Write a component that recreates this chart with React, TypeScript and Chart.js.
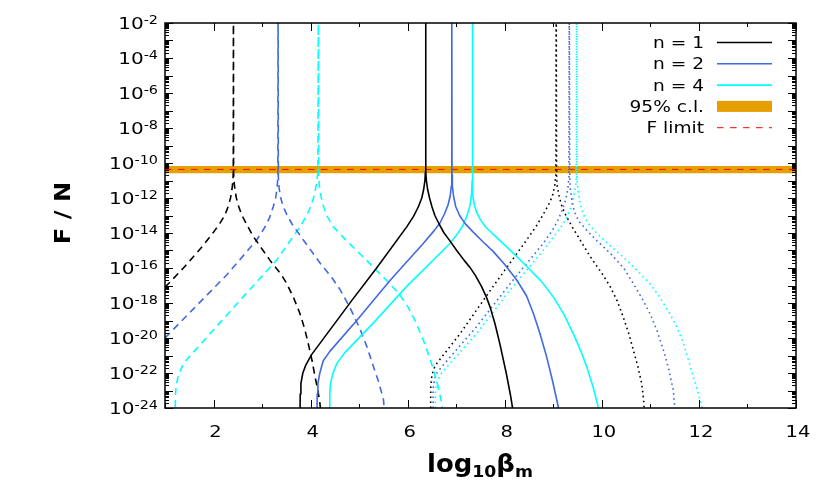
import React, { useEffect, useRef } from "react";
import { Chart, registerables } from "chart.js";

Chart.register(...registerables);

// ---------- axes ----------
const xRange = [1, 14];
const yRange = [1e-24, 1e-2];
const xMajorTicks = [2, 4, 6, 8, 10, 12, 14];
const xMinorTicks = [1, 3, 5, 7, 9, 11, 13];
const yLabelExponents = [-2, -4, -6, -8, -10, -12, -14, -16, -18, -20, -22, -24];
const yDecadeExponents = [-2, -3, -4, -5, -6, -7, -8, -9, -10, -11, -12, -13, -14, -15, -16, -17, -18, -19, -20, -21, -22, -23, -24];
const yMinorMultipliers = [2, 3, 4, 5, 6, 7, 8, 9];

// ---------- 95% c.l. band and F limit ----------
const bandLower = 2.6e-11;
const bandUpper = 6.8e-11;
const fLimit = 4.3e-11;

// ---------- curves (x = log10 beta_m, y = F/N) ----------
// dashed group
const dashedN1X = [1.0, 1.38, 1.79, 2.0, 2.13, 2.23, 2.30, 2.35, 2.38, 2.40, 2.407, 2.41, 2.413, 2.42, 2.44, 2.47, 2.52, 2.58, 2.68, 2.82, 3.16, 3.40, 3.51, 3.65, 3.78, 3.88, 3.95, 4.03, 4.09, 4.15, 4.19, 4.22];
const dashedN1Y = [7.94e-18, 1e-16, 2.0e-15, 1.12e-14, 3.55e-14, 1e-13, 3.16e-13, 1e-12, 3.16e-12, 1e-11, 3.16e-11, 1, 3.16e-11, 1e-11, 3.16e-12, 1e-12, 3.16e-13, 1.12e-13, 3.16e-14, 6.31e-15, 2.82e-16, 3.98e-17, 1.26e-17, 2.0e-18, 2.51e-19, 3.16e-20, 5.01e-21, 5.01e-22, 6.31e-23, 1e-23, 2.0e-24, 3.16e-25];

const dashedN2X = [1.0, 1.58, 2.27, 2.89, 3.05, 3.15, 3.23, 3.28, 3.31, 3.325, 3.33, 3.335, 3.35, 3.38, 3.43, 3.51, 3.62, 3.85, 4.19, 4.45, 4.61, 4.80, 5.02, 5.16, 5.29, 5.40, 5.50, 5.53];
const dashedN2Y = [1e-20, 4.47e-19, 3.98e-17, 3.98e-15, 2.0e-14, 7.08e-14, 3.16e-13, 1e-12, 3.98e-12, 1.58e-11, 1, 1.58e-11, 3.98e-12, 1.12e-12, 3.55e-13, 1.12e-13, 3.16e-14, 3.98e-15, 2.0e-16, 2.51e-17, 5.62e-18, 6.31e-19, 3.16e-20, 3.16e-21, 2.51e-22, 3.16e-23, 3.16e-24, 3.16e-25];

const dashedN4X = [1.21, 1.215, 1.23, 1.27, 1.38, 1.93, 2.61, 3.30, 3.78, 3.92, 4.02, 4.08, 4.12, 4.15, 4.16, 4.165, 4.18, 4.21, 4.25, 4.33, 4.47, 4.74, 5.15, 5.36, 5.60, 5.83, 6.0, 6.15, 6.32, 6.45, 6.53, 6.62, 6.70, 6.73];
const dashedN4Y = [1e-26, 5.01e-24, 2.0e-23, 6.31e-23, 3.55e-22, 1.78e-20, 2.24e-18, 2.82e-16, 2.24e-14, 1e-13, 4.47e-13, 1.58e-12, 6.31e-12, 2.51e-11, 1, 2.51e-11, 5.01e-12, 1.41e-12, 4.47e-13, 1e-13, 2.24e-14, 3.55e-15, 2.82e-16, 7.08e-17, 1.58e-17, 3.16e-18, 6.31e-19, 1e-19, 7.94e-21, 7.94e-22, 1.58e-22, 2.0e-23, 2.0e-24, 3.16e-25];

// solid group
const solidN1X = [3.78, 3.785, 3.80, 3.84, 3.90, 4.02, 4.85, 5.36, 5.98, 6.12, 6.22, 6.29, 6.33, 6.355, 6.365, 6.37, 6.375, 6.385, 6.41, 6.45, 6.50, 6.56, 6.65, 6.75, 6.87, 7.01, 7.16, 7.28, 7.40, 7.52, 7.62, 7.70, 7.80, 7.90, 8.03, 8.12, 8.19];
const solidN1Y = [1e-26, 6.31e-24, 2.51e-23, 1e-22, 2.82e-22, 1.12e-21, 1.41e-18, 1e-16, 2.24e-14, 8.91e-14, 3.16e-13, 1e-12, 3.16e-12, 1e-11, 3.16e-11, 1, 3.16e-11, 1e-11, 3.16e-12, 1e-12, 3.16e-13, 1e-13, 3.16e-14, 1e-14, 3.55e-15, 1e-15, 2.82e-16, 1.12e-16, 3.55e-17, 8.91e-18, 2.24e-18, 5.62e-19, 6.31e-20, 4.47e-21, 1e-22, 5.01e-24, 3.16e-25];

const solidN2X = [4.13, 4.135, 4.15, 4.19, 4.26, 4.40, 4.95, 5.64, 6.32, 6.55, 6.67, 6.76, 6.83, 6.875, 6.90, 6.907, 6.91, 6.913, 6.92, 6.945, 6.99, 7.07, 7.18, 7.35, 7.55, 7.76, 8.0, 8.25, 8.45, 8.59, 8.72, 8.86, 8.98, 9.10, 9.12];
const solidN2Y = [1e-26, 6.31e-24, 2.51e-23, 1e-22, 5.01e-22, 1.78e-21, 1e-19, 2.0e-17, 2.51e-15, 1.41e-14, 3.98e-14, 1.26e-13, 3.98e-13, 1.26e-12, 5.01e-12, 2.0e-11, 1, 2.0e-11, 5.01e-12, 1.26e-12, 3.16e-13, 1e-13, 3.55e-14, 1.12e-14, 3.16e-15, 8.91e-16, 1.58e-16, 2.0e-17, 2.51e-18, 2.51e-19, 2.0e-20, 8.91e-22, 3.98e-23, 1.26e-24, 3.16e-25];

const solidN4X = [4.39, 4.395, 4.41, 4.45, 4.54, 4.70, 5.29, 5.98, 6.87, 7.05, 7.15, 7.23, 7.285, 7.315, 7.327, 7.33, 7.333, 7.345, 7.375, 7.42, 7.50, 7.62, 7.83, 8.1, 8.45, 8.75, 9.0, 9.22, 9.41, 9.56, 9.69, 9.82, 9.93, 9.94];
const solidN4Y = [1e-26, 6.31e-24, 2.51e-23, 7.94e-23, 3.55e-22, 1.41e-21, 7.08e-20, 8.91e-18, 2.51e-15, 1.12e-14, 3.16e-14, 1.12e-13, 3.98e-13, 1.58e-12, 1e-11, 1, 1e-11, 1.58e-12, 3.98e-13, 1.58e-13, 5.62e-14, 2.0e-14, 5.62e-15, 1.12e-15, 1.26e-16, 1.78e-17, 2.24e-18, 2.24e-19, 1.78e-20, 2.0e-21, 2.24e-22, 1.58e-23, 1e-24, 3.16e-25];

// dotted group
const dottedN1X = [6.47, 6.475, 6.50, 6.55, 6.60, 7.08, 7.76, 8.45, 8.65, 8.79, 8.90, 8.98, 9.03, 9.052, 9.06, 9.068, 9.08, 9.12, 9.18, 9.26, 9.41, 9.76, 10.0, 10.17, 10.32, 10.44, 10.55, 10.65, 10.74, 10.82, 10.86, 10.88];
const dottedN1Y = [1e-26, 1.58e-23, 7.94e-23, 2.0e-22, 3.55e-22, 1.78e-20, 8.91e-18, 3.98e-15, 2.51e-14, 1.12e-13, 3.98e-13, 1.26e-12, 5.01e-12, 2.0e-11, 1, 2.0e-11, 5.01e-12, 1.26e-12, 3.16e-13, 1e-13, 1.78e-14, 4.47e-16, 5.01e-17, 8.91e-18, 1.26e-18, 1.58e-19, 2.0e-20, 2.0e-21, 2.51e-22, 2.51e-23, 3.16e-24, 3.16e-25];

const dottedN2X = [6.52, 6.525, 6.55, 6.60, 6.70, 7.42, 8.11, 8.79, 8.98, 9.10, 9.19, 9.26, 9.30, 9.322, 9.33, 9.338, 9.35, 9.38, 9.43, 9.52, 9.69, 9.90, 10.17, 10.45, 10.65, 10.85, 10.99, 11.14, 11.27, 11.38, 11.47, 11.52];
const dottedN2Y = [1e-26, 1.26e-23, 4.47e-23, 1e-22, 2.24e-22, 4.47e-20, 1.26e-17, 2.51e-15, 1.41e-14, 5.62e-14, 2.24e-13, 8.91e-13, 3.55e-12, 1.58e-11, 1, 1.58e-11, 3.55e-12, 7.94e-13, 1.78e-13, 5.01e-14, 1.41e-14, 3.55e-15, 7.08e-16, 1e-16, 1.26e-17, 1.41e-18, 2.51e-19, 2.51e-20, 2.0e-21, 1.58e-22, 1.12e-23, 3.16e-25];

const dottedN4X = [6.57, 6.575, 6.60, 6.70, 6.87, 7.42, 8.11, 8.79, 9.05, 9.20, 9.30, 9.38, 9.43, 9.465, 9.475, 9.48, 9.485, 9.495, 9.52, 9.56, 9.62, 9.72, 9.89, 10.2, 10.51, 10.75, 10.99, 11.20, 11.40, 11.55, 11.68, 11.78, 11.88, 11.98, 12.06, 12.08];
const dottedN4Y = [1e-26, 1e-23, 3.16e-23, 1e-22, 3.55e-22, 1.78e-20, 5.62e-18, 1e-15, 8.91e-15, 3.16e-14, 1.12e-13, 3.98e-13, 1.58e-12, 6.31e-12, 2.0e-11, 1, 2.0e-11, 6.31e-12, 1.58e-12, 3.98e-13, 1.12e-13, 3.55e-14, 1e-14, 1.58e-15, 2.82e-16, 6.31e-17, 1.26e-17, 2.0e-18, 2.51e-19, 3.98e-20, 5.01e-21, 6.31e-22, 6.31e-23, 7.94e-24, 1.26e-24, 3.16e-25];

// ---------- legend ----------
const legendLabels = ["n = 1", "n = 2", "n = 4", "95% c.l.", "F limit"];

// ---------- styles ----------
const BLACK = "#000000";
const BLUE = "#4169e1";
const CYAN = "#00ffff";
const ORANGE = "#e69f00";
const RED = "#ff0000";
const DASH = [7, 5];
const DOT = [1.6, 3.4];
const LIMIT_DASH = [6.5, 6.5];
const LW = 1.6;
const FONT = '"DejaVu Sans", sans-serif';

const pts = (xs: number[], ys: number[]) => xs.map((x, i) => ({ x, y: ys[i] }));

function drawText(ctx: CanvasRenderingContext2D, text: string, x: number, y: number, font: string, sx: number, align: string) {
  ctx.save();
  ctx.font = font;
  const w = ctx.measureText(text).width * sx;
  const x0 = align === "right" ? x - w : align === "center" ? x - w / 2 : x;
  ctx.translate(x0, y);
  ctx.scale(sx, 1);
  ctx.textAlign = "left";
  ctx.textBaseline = "alphabetic";
  ctx.fillStyle = "#000";
  ctx.fillText(text, 0, 0);
  ctx.restore();
  return w;
}

const decorPlugin = {
  id: "decor",
  afterDraw(chart: any) {
    const ctx: CanvasRenderingContext2D = chart.ctx;
    const { left, right, top, bottom } = chart.chartArea;
    const xs = chart.scales.x;
    const ys = chart.scales.y;
    ctx.save();
    // ticks
    ctx.strokeStyle = "#000";
    ctx.lineWidth = 1;
    ctx.beginPath();
    const xTick = (v: number, len: number) => {
      const p = Math.round(xs.getPixelForValue(v)) + 0.5;
      ctx.moveTo(p, bottom); ctx.lineTo(p, bottom - len);
      ctx.moveTo(p, top); ctx.lineTo(p, top + len);
    };
    xMajorTicks.forEach((v) => xTick(v, 8));
    xMinorTicks.forEach((v) => xTick(v, 4));
    const yTick = (v: number, len: number) => {
      const p = Math.round(ys.getPixelForValue(v)) + 0.5;
      ctx.moveTo(left, p); ctx.lineTo(left + len, p);
      ctx.moveTo(right, p); ctx.lineTo(right - len, p);
    };
    yDecadeExponents.forEach((e) => {
      const base = Number("1e" + e);
      yTick(base, 8);
      if (e > -24) {
        yMinorMultipliers.forEach((m) => yTick(m * Number("1e" + (e - 1)), 4));
      }
    });
    ctx.stroke();
    // frame
    ctx.lineWidth = 1.5;
    ctx.strokeRect(left, top, right - left, bottom - top);

    // x tick labels
    xMajorTicks.forEach((v) => {
      drawText(ctx, String(v), xs.getPixelForValue(v) + 2, 437, `16px ${FONT}`, 1.22, "center");
    });
    // y tick labels: 10^e
    yLabelExponents.forEach((e) => {
      const py = ys.getPixelForValue(Number("1e" + e));
      ctx.font = `16px ${FONT}`;
      const wb = ctx.measureText("10").width * 1.25;
      ctx.font = `12px ${FONT}`;
      const we = ctx.measureText(String(e)).width * 1.2;
      const start = 158 - wb - we;
      drawText(ctx, "10", start, py + 6, `16px ${FONT}`, 1.25, "left");
      drawText(ctx, String(e), start + wb, py + 0.5, `12px ${FONT}`, 1.2, "left");
    });

    // y title (rotated)
    ctx.save();
    ctx.translate(70, 213);
    ctx.rotate(-Math.PI / 2);
    drawText(ctx, "F / N", 0, 0, `bold 22px ${FONT}`, 1.1, "center");
    ctx.restore();

    // x title: log10 beta_m
    const SX = 1.08;
    const parts = [
      { t: "log", f: `bold 24px ${FONT}`, dy: 0 },
      { t: "10", f: `bold 16px ${FONT}`, dy: 5 },
      { t: "β", f: `bold 24px ${FONT}`, dy: 0 },
      { t: "m", f: `bold 16px ${FONT}`, dy: 5 },
    ];
    let total = 0;
    parts.forEach((p) => { ctx.font = p.f; total += ctx.measureText(p.t).width * SX; });
    let cx = 480 - total / 2;
    parts.forEach((p) => { cx += drawText(ctx, p.t, cx, 472 + p.dy, p.f, SX, "left"); });

    // legend
    const rowY = (i: number) => 42.5 + 21.3 * i;
    const lx0 = 717, lx1 = 772;
    const lineColors = [BLACK, BLUE, CYAN];
    legendLabels.forEach((lab, i) => {
      const cy = rowY(i);
      drawText(ctx, lab, 704, cy + 5.5, `15.5px ${FONT}`, 1.2, "right");
      if (i < 3) {
        ctx.strokeStyle = lineColors[i];
        ctx.lineWidth = LW;
        ctx.setLineDash([]);
        ctx.beginPath(); ctx.moveTo(lx0, cy); ctx.lineTo(lx1, cy); ctx.stroke();
      } else if (i === 3) {
        ctx.fillStyle = ORANGE;
        ctx.fillRect(lx0, cy - 5.5, lx1 - lx0, 11);
      } else {
        ctx.strokeStyle = RED;
        ctx.lineWidth = 1;
        ctx.setLineDash(LIMIT_DASH);
        ctx.beginPath(); ctx.moveTo(lx0, cy); ctx.lineTo(lx1, cy); ctx.stroke();
        ctx.setLineDash([]);
      }
    });
    ctx.restore();
  },
};

export default function App() {
  const ref = useRef<HTMLCanvasElement | null>(null);
  useEffect(() => {
    if (!ref.current) return;
    const curve = (xsArr: number[], ysArr: number[], color: string, dash: number[]) => ({
      data: pts(xsArr, ysArr),
      borderColor: color,
      borderWidth: LW,
      borderDash: dash,
      borderJoinStyle: "round",
      pointRadius: 0,
      fill: false,
      tension: 0,
      clip: 0,
      order: 0,
    });
    const chart = new Chart(ref.current, {
      type: "line",
      data: {
        datasets: [
          curve(solidN1X, solidN1Y, BLACK, []),
          curve(solidN2X, solidN2Y, BLUE, []),
          curve(solidN4X, solidN4Y, CYAN, []),
          curve(dashedN1X, dashedN1Y, BLACK, DASH),
          curve(dashedN2X, dashedN2Y, BLUE, DASH),
          curve(dashedN4X, dashedN4Y, CYAN, DASH),
          curve(dottedN1X, dottedN1Y, BLACK, DOT),
          curve(dottedN2X, dottedN2Y, BLUE, DOT),
          curve(dottedN4X, dottedN4Y, CYAN, DOT),
          {
            data: [{ x: xRange[0], y: fLimit }, { x: xRange[1], y: fLimit }],
            borderColor: RED,
            borderWidth: 1,
            borderDash: LIMIT_DASH,
            pointRadius: 0,
            fill: false,
            clip: 0,
            order: 1,
          },
          {
            data: [{ x: xRange[0], y: bandUpper }, { x: xRange[1], y: bandUpper }],
            borderWidth: 0,
            borderColor: ORANGE,
            backgroundColor: ORANGE,
            pointRadius: 0,
            fill: { value: bandLower },
            clip: 0,
            order: 2,
          },
        ] as any,
      },
      options: {
        animation: false,
        responsive: false,
        events: [],
        layout: { padding: { top: 23, right: 34, left: 0, bottom: 0 } },
        plugins: { legend: { display: false }, tooltip: { enabled: false } },
        scales: {
          x: {
            type: "linear",
            min: xRange[0],
            max: xRange[1],
            ticks: { display: false },
            grid: { display: false },
            border: { display: false },
            afterFit: (s: any) => { s.height = 90; },
          },
          y: {
            type: "logarithmic",
            min: yRange[0],
            max: yRange[1],
            ticks: { display: false },
            grid: { display: false },
            border: { display: false },
            afterFit: (s: any) => { s.width = 165; },
          },
        },
      } as any,
      plugins: [decorPlugin],
    });
    return () => chart.destroy();
  }, []);
  return (
    <div style={{ position: "fixed", left: 0, top: 0, width: 830, height: 498, background: "#fff" }}>
      <canvas ref={ref} width={830} height={498} style={{ width: 830, height: 498, display: "block" }} />
    </div>
  );
}
